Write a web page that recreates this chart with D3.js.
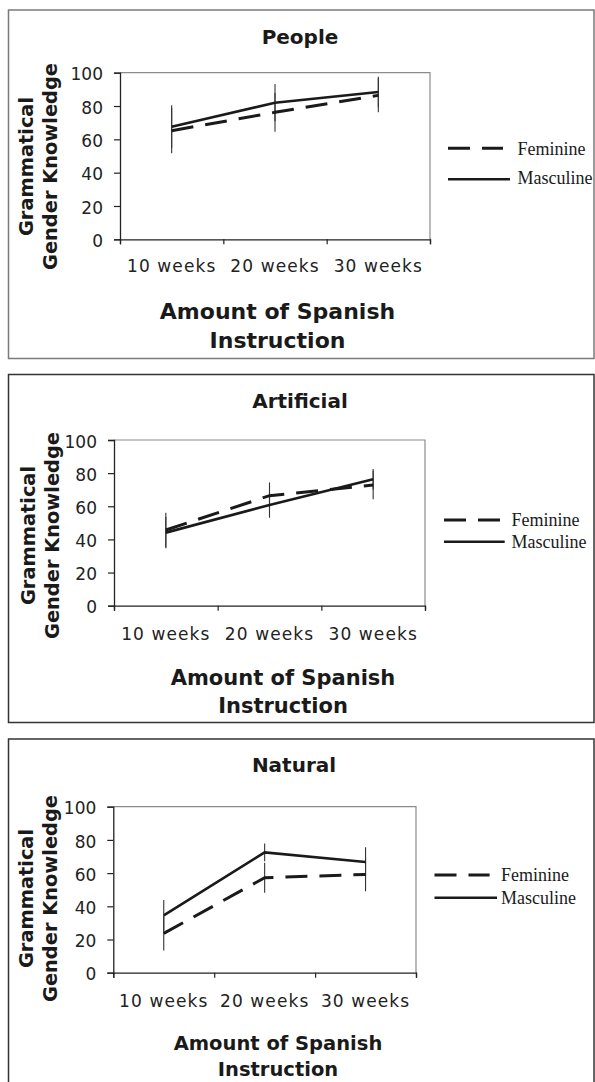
<!DOCTYPE html>
<html>
<head>
<meta charset="utf-8">
<script src="https://cdn.jsdelivr.net/npm/d3@7"></script>
<style>
html,body{margin:0;padding:0;background:#fff;}
svg{display:block;}
</style>
</head>
<body>
<svg id="chart" width="595" height="1082"></svg>
<script>
// ---- data ----
const categories = ["10 weeks", "20 weeks", "30 weeks"];
const yTicks = [0, 20, 40, 60, 80, 100];
const panelTitles = ["People", "Artificial", "Natural"];
const seriesNames = ["Feminine", "Masculine"];
const xAxisTitle = ["Amount of Spanish", "Instruction"];
const yAxisTitle = ["Grammatical", "Gender Knowledge"];

const peopleFeminine = [65.2, 76.2, 86.4];
const peopleMasculine = [67.6, 82.0, 88.4];
const peopleFeminineErr = [13.6, 11.6, 10.2];
const peopleMasculineErr = [12.8, 11.2, 9.2];

const artificialFeminine = [45.7, 66.4, 72.8];
const artificialMasculine = [44.1, 60.8, 76.3];
const artificialFeminineErr = [10.4, 8.0, 8.6];
const artificialMasculineErr = [9.5, 7.7, 6.2];

const naturalFeminine = [23.7, 57.2, 59.2];
const naturalMasculine = [34.5, 72.5, 66.7];
const naturalFeminineErr = [10.4, 9.0, 10.2];
const naturalMasculineErr = [9.3, 5.4, 8.8];

const panelData = [
  {fem: peopleFeminine, masc: peopleMasculine, femErr: peopleFeminineErr, mascErr: peopleMasculineErr},
  {fem: artificialFeminine, masc: artificialMasculine, femErr: artificialFeminineErr, mascErr: artificialMasculineErr},
  {fem: naturalFeminine, masc: naturalMasculine, femErr: naturalFeminineErr, mascErr: naturalMasculineErr}
];

// ---- layout ----
const layouts = [
  {frameTop: 10, frameBottom: 358.5, frameColor: "#7a7a7a",
   plot: {l: 120, t: 72.7, r: 430, b: 239.3},
   title: {x: 300, y: 43.5}, xLabelY: 272, xTitle: {x: 277.5, y1: 319, y2: 347.5, size: 22},
   yTitle: {cy: 166.5, x1: 33, x2: 57},
   legend: {x0: 448, dashEnd: 503, solidEnd: 510, yDash: 148.3, ySolid: 179.3, tx: 517.5, tyF: 155, tyM: 184}},
  {frameTop: 374.5, frameBottom: 722.5, frameColor: "#333",
   plot: {l: 114, t: 440, r: 425, b: 605.7},
   title: {x: 300, y: 407.7}, xLabelY: 640, xTitle: {x: 283, y1: 685, y2: 713.3, size: 21},
   yTitle: {cy: 535.5, x1: 35, x2: 59},
   legend: {x0: 444, dashEnd: 500, solidEnd: 504.7, yDash: 520, ySolid: 541.7, tx: 511.6, tyF: 525.5, tyM: 548}},
  {frameTop: 739, frameBottom: 1095, frameColor: "#333",
   plot: {l: 113.3, t: 806.7, r: 416, b: 972.7},
   title: {x: 294, y: 771.7}, xLabelY: 1006.7, xTitle: {x: 278, y1: 1050, y2: 1075.7, size: 19.5},
   yTitle: {cy: 898.5, x1: 33, x2: 57},
   legend: {x0: 434.5, dashEnd: 489.6, solidEnd: 497, yDash: 875, ySolid: 897.7, tx: 501, tyF: 880.5, tyM: 903.5}}
];

const svg = d3.select("#chart");
const sans = "'DejaVu Sans', Verdana, sans-serif";
const serif = "'Liberation Serif', 'Times New Roman', serif";
const dash = "22,12";

layouts.forEach((L, i) => {
  const D = panelData[i];
  const g = svg.append("g");

  // frame
  g.append("rect")
    .attr("x", 8.5).attr("y", L.frameTop)
    .attr("width", 594 - 8.5).attr("height", L.frameBottom - L.frameTop)
    .attr("fill", "none").attr("stroke", L.frameColor).attr("stroke-width", 1.5);

  const P = L.plot;
  const x = d3.scaleBand().domain(categories).range([P.l, P.r]);
  const xb = d3.scaleLinear().domain([0, categories.length]).range([P.l, P.r]);
  const y = d3.scaleLinear().domain([0, 100]).range([P.b, P.t]);
  const cx = c => x(c) + x.bandwidth() / 2;

  // plot area top/right border (gray)
  g.append("path")
    .attr("d", `M${P.l},${y(100)}H${P.r}V${y(0)}`)
    .attr("fill", "none").attr("stroke", "#8c8c8c").attr("stroke-width", 1.2);

  // y axis
  const ya = g.append("g").attr("transform", `translate(${P.l},0)`)
    .call(d3.axisLeft(y).tickValues(yTicks).tickSize(6).tickPadding(11));
  ya.select(".domain").attr("stroke", "#222").attr("stroke-width", 1.3);
  ya.selectAll(".tick line").attr("stroke", "#222").attr("stroke-width", 1.2);
  ya.selectAll(".tick text").attr("font-family", sans).attr("font-size", 17)
    .attr("fill", "#222").attr("dy", "0.42em");

  // x axis boundary ticks
  const xa = g.append("g").attr("transform", `translate(0,${P.b})`)
    .call(d3.axisBottom(xb).tickValues(d3.range(categories.length + 1)).tickSize(5).tickFormat(""));
  xa.select(".domain").attr("stroke", "#222").attr("stroke-width", 1.3);
  xa.selectAll(".tick line").attr("stroke", "#222").attr("stroke-width", 1.2);

  // x category labels
  const xl = g.append("g").attr("transform", `translate(0,${P.b})`)
    .call(d3.axisBottom(x).tickSize(0).tickPadding(0));
  xl.select(".domain").remove();
  xl.selectAll(".tick text").attr("font-family", sans).attr("font-size", 17)
    .attr("letter-spacing", "1.1px").attr("fill", "#222")
    .attr("y", L.xLabelY - P.b).attr("dy", 0);

  // error bars
  const bars = [];
  categories.forEach((c, k) => {
    bars.push({c, lo: D.fem[k] - D.femErr[k], hi: D.fem[k] + D.femErr[k]});
    bars.push({c, lo: D.masc[k] - D.mascErr[k], hi: D.masc[k] + D.mascErr[k]});
  });
  g.selectAll(".err").data(bars).enter().append("line")
    .attr("x1", d => cx(d.c)).attr("x2", d => cx(d.c))
    .attr("y1", d => y(d.lo)).attr("y2", d => y(d.hi))
    .attr("stroke", "#333").attr("stroke-width", 1.1);

  // lines
  const line = d3.line().x(d => cx(d.c)).y(d => y(d.v));
  const femPts = categories.map((c, k) => ({c, v: D.fem[k]}));
  const mascPts = categories.map((c, k) => ({c, v: D.masc[k]}));
  g.append("path").attr("d", line(femPts)).attr("fill", "none")
    .attr("stroke", "#1a1a1a").attr("stroke-width", 3).attr("stroke-dasharray", dash);
  g.append("path").attr("d", line(mascPts)).attr("fill", "none")
    .attr("stroke", "#1a1a1a").attr("stroke-width", 2.6);

  // title
  g.append("text").attr("x", L.title.x).attr("y", L.title.y)
    .attr("text-anchor", "middle").attr("font-family", sans)
    .attr("font-weight", "bold").attr("font-size", 20).attr("fill", "#1a1a1a")
    .text(panelTitles[i]);

  // x axis title
  [L.xTitle.y1, L.xTitle.y2].forEach((yy, k) => {
    g.append("text").attr("x", L.xTitle.x).attr("y", yy)
      .attr("text-anchor", "middle").attr("font-family", sans)
      .attr("font-weight", "bold").attr("font-size", L.xTitle.size).attr("fill", "#1a1a1a")
      .text(xAxisTitle[k]);
  });

  // y axis title
  [L.yTitle.x1, L.yTitle.x2].forEach((xx, k) => {
    g.append("text")
      .attr("transform", `translate(${xx},${L.yTitle.cy}) rotate(-90)`)
      .attr("text-anchor", "middle").attr("font-family", sans)
      .attr("font-weight", "bold").attr("font-size", 19.4).attr("fill", "#1a1a1a")
      .text(yAxisTitle[k]);
  });

  // legend
  const Lg = L.legend;
  g.append("line").attr("x1", Lg.x0).attr("x2", Lg.dashEnd)
    .attr("y1", Lg.yDash).attr("y2", Lg.yDash)
    .attr("stroke", "#1a1a1a").attr("stroke-width", 3).attr("stroke-dasharray", dash);
  g.append("line").attr("x1", Lg.x0).attr("x2", Lg.solidEnd)
    .attr("y1", Lg.ySolid).attr("y2", Lg.ySolid)
    .attr("stroke", "#1a1a1a").attr("stroke-width", 2.6);
  [[seriesNames[0], Lg.tyF], [seriesNames[1], Lg.tyM]].forEach(([t, yy]) => {
    g.append("text").attr("x", Lg.tx).attr("y", yy)
      .attr("font-family", serif).attr("font-size", 18).attr("fill", "#1a1a1a")
      .text(t);
  });
});
</script>
</body>
</html>
